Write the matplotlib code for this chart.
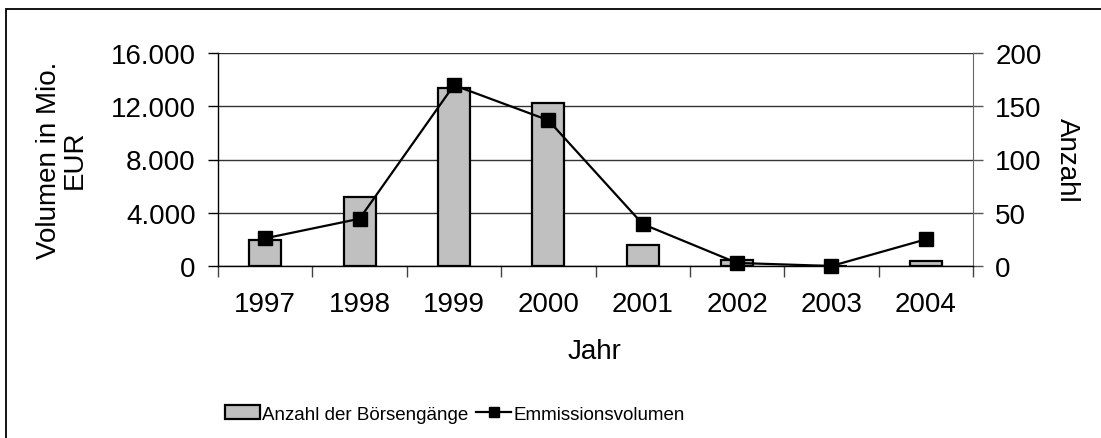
import numpy as np
import matplotlib
matplotlib.use('Agg')
import matplotlib.pyplot as plt
from matplotlib.ticker import FuncFormatter
from matplotlib.patches import Rectangle

# %% Daten

jahre = ['1997', '1998', '1999', '2000', '2001', '2002', '2003', '2004']
anzahl = [24, 65, 167, 153, 20, 6, 0, 5]                       # Börsengänge
volumen = [2080, 3550, 13580, 10950, 3150, 230, 0, 2000]      # Mio. EUR

plt.rcParams['font.family'] = ['Liberation Sans', 'DejaVu Sans']
fs = 20

# %% Plot

W, H = 1101, 439
fig = plt.figure(figsize=(W/100, H/100), dpi=100)

# Rahmen um das Diagramm (nur links und oben sichtbar)
fig.patches.append(Rectangle((6/W, -0.1), 1.2, 1.1 - 10/H,
                             transform=fig.transFigure, fill=False,
                             edgecolor='black', linewidth=1.3))

x0, x1, y0, y1 = 218, 973, 54, 267
ax = fig.add_axes([x0/W, 1 - y1/H, (x1-x0)/W, (y1-y0)/H])
ax2 = ax.twinx()

x = np.arange(len(jahre))

# Balken auf der rechten Achse (Anzahl)
ax2.bar(x, anzahl, width=0.34, color='#c0c0c0', edgecolor='black',
        linewidth=1.6, zorder=2, label='Anzahl der Börsengänge')
ax2.set_ylim(0, 200)
ax2.set_yticks([0, 50, 100, 150, 200])
ax2.yaxis.grid(True, color='#333333', linewidth=1)
ax2.set_axisbelow(True)

# Linie auf der linken Achse (Volumen)
ax.set_zorder(ax2.get_zorder() + 1)
ax.patch.set_visible(False)
ax.plot(x, volumen, color='black', linewidth=1.6, marker='s', markersize=10,
        label='Emmissionsvolumen', clip_on=False, zorder=3)
ax.set_ylim(0, 16000)
ax.set_yticks([0, 4000, 8000, 12000, 16000])
ax.yaxis.set_major_formatter(FuncFormatter(lambda v, p: f'{v:,.0f}'.replace(',', '.')))
ax.set_xlim(-0.5, len(jahre) - 0.5)
ax.set_xticks(x)
ax.set_xticklabels(jahre)
ax.set_xticks(np.arange(-0.5, len(jahre)), minor=True)
ax.tick_params(axis='x', which='major', length=0, pad=18, labelsize=fs)
ax.tick_params(axis='x', which='minor', length=8, width=1, color='#444444')
ax.tick_params(axis='y', length=7, width=1, labelsize=fs, pad=9)
ax2.tick_params(axis='y', length=7, width=1, color='#555555', labelsize=fs, pad=9)

for a in (ax, ax2):
    a.spines['top'].set_visible(False)
ax.spines['right'].set_visible(False)
ax2.spines['left'].set_visible(False)
ax2.spines['bottom'].set_visible(False)
ax2.spines['right'].set_color('#666666')
ax.spines['left'].set_linewidth(1)
ax.spines['bottom'].set_linewidth(1)

fig.text(595/W, 1 - 352/H, 'Jahr', ha='center', va='center', fontsize=fs)
fig.text(62/W, 1 - 160/H, 'Volumen in Mio.\nEUR', ha='center', va='center',
         rotation=90, fontsize=fs, linespacing=1.0)
fig.text(1067/W, 1 - 160/H, 'Anzahl', ha='center', va='center',
         rotation=-90, fontsize=fs)

h1, l1 = ax2.get_legend_handles_labels()
h2, l2 = ax.get_legend_handles_labels()
fig.legend(h1 + h2, l1 + l2, loc='center', bbox_to_anchor=(455/W, 1 - 415/H),
           ncol=2, frameon=False, fontsize=13.5, handlelength=1.85,
           handleheight=0.75, handletextpad=0.15, columnspacing=0.4,
           borderpad=0, markerscale=0.65)

fig.savefig('out.png', dpi=100)
